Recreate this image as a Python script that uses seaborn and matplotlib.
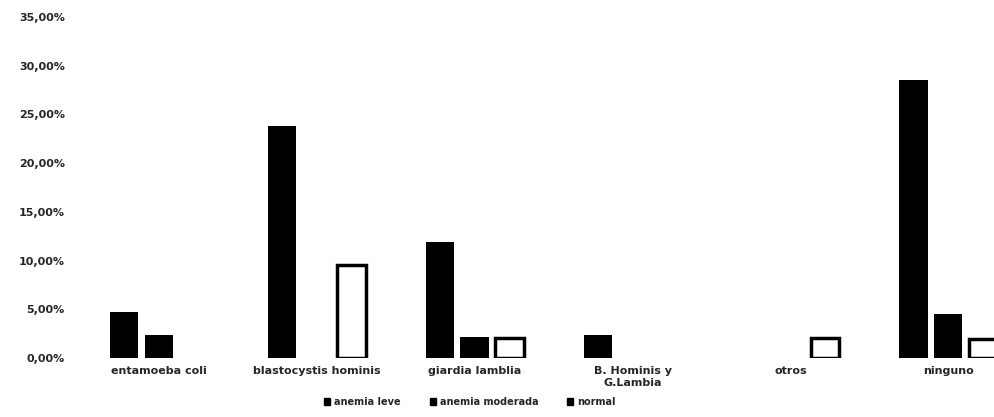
import matplotlib
matplotlib.use("Agg")
import matplotlib.pyplot as plt
from matplotlib.patches import Patch
from matplotlib.ticker import FuncFormatter
import seaborn as sns
import pandas as pd

categories = ["entamoeba coli", "blastocystis hominis", "giardia lamblia",
              "B. Hominis y\nG.Lambia", "otros", "ninguno"]
series_names = ["anemia leve", "anemia moderada", "normal"]
anemia_leve = [4.76, 23.81, 11.90, 2.38, 0.0, 28.57]
anemia_moderada = [2.38, 0.0, 2.20, 0.0, 0.0, 4.50]
normal = [0.0, 9.52, 2.10, 0.0, 2.10, 2.00]
yticks = [0, 5, 10, 15, 20, 25, 30, 35]

rows = []
for name, vals in zip(series_names, [anemia_leve, anemia_moderada, normal]):
    for c, v in zip(categories, vals):
        if v > 0:
            rows.append({"cat": c, "serie": name, "val": v})
df = pd.DataFrame(rows)

sns.set_theme(style="white")
plt.rcParams["font.family"] = ["DejaVu Sans"]

fig = plt.figure(figsize=(9.94, 4.17), dpi=100)
ax = fig.add_axes([80/994, (417-358)/417, 1 - 80/994, (358-17)/417])

sns.barplot(data=df, x="cat", y="val", hue="serie", order=categories,
            hue_order=series_names, palette=["black", "black", "white"],
            width=0.66, gap=0.18, ax=ax, legend=False, saturation=1)

for container, name in zip(ax.containers, series_names):
    for bar in container:
        if name == "normal":
            bar.set_facecolor("white")
            bar.set_edgecolor("black")
            bar.set_linewidth(2.5)
        else:
            bar.set_edgecolor("black")
            bar.set_linewidth(0)

ax.set_ylim(0, 35)
ax.set_xlim(-0.5, 5.29)
ax.set_yticks(yticks)
ax.yaxis.set_major_formatter(FuncFormatter(lambda v, p: f"{v:.2f}".replace(".", ",") + "%"))
ax.set_xlabel("")
ax.set_ylabel("")
for s in ax.spines.values():
    s.set_visible(False)
ax.tick_params(axis="both", length=0)
ax.tick_params(axis="y", pad=11, labelsize=8)
ax.tick_params(axis="x", pad=6, labelsize=8)
for lab in ax.get_xticklabels() + ax.get_yticklabels():
    lab.set_fontweight("bold")
ax.grid(False)

handles = [Patch(facecolor="black", edgecolor="black") for _ in series_names]
fig.legend(handles, series_names, loc="center", bbox_to_anchor=(470/994, (417-402)/417),
           ncol=3, frameon=False, handlelength=0.6, handleheight=0.6,
           handletextpad=0.4, columnspacing=3.0, prop={"weight": "bold", "size": 7})

fig.savefig("out.png", dpi=100, facecolor="white")
